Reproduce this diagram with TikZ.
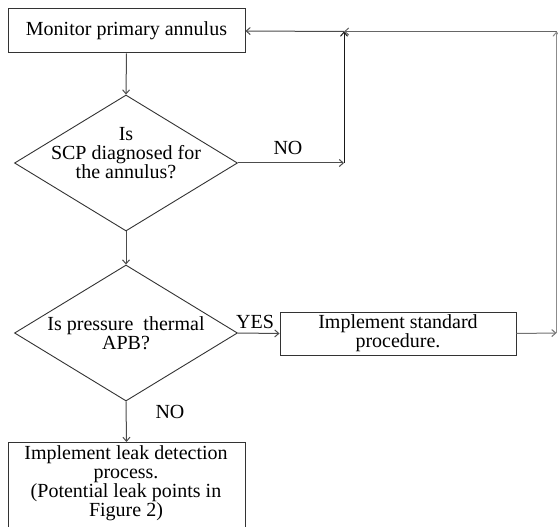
\documentclass[tikz,border=0pt]{standalone}
\usepackage{fontspec}
\setmainfont{Liberation Serif}
\usetikzlibrary{shapes.geometric,arrows.meta}
\tikzset{
  lbl/.style={font=\fontsize{20}{19}\selectfont, inner sep=0pt, align=center},
  procbox/.style={draw=black!80, line width=1pt, rectangle, inner sep=0pt},
  decbox/.style={draw=black!80, line width=0.9pt, diamond, inner sep=0pt, minimum width=223pt, minimum height=136pt},
  conn/.style={draw=black!70, line width=1pt},
  arr/.style={conn, -{Straight Barb[length=4pt,width=7pt]}},
}
\begin{document}
\begin{tikzpicture}[x=1pt,y=-1pt]
\clip (0,0) rectangle (558,527);
\fill[white] (0,0) rectangle (558,527);
% nodes
\node[procbox, minimum width=237pt, minimum height=44pt] (b1) at (126.5,31) {};
\node[lbl] (t1) at (b1.center) {Monitor primary annulus};
\node[decbox] (d1) at (126,163) {};
\node[lbl] (t2) at (126,153.5) {Is\\SCP diagnosed for\\the annulus?};
\node[decbox] (d2) at (126,333) {};
\node[lbl] (t3) at (126,333) {Is pressure~ thermal\\APB?};
\node[procbox, minimum width=236pt, minimum height=43pt] (b2) at (398,333.5) {};
\node[lbl] (t4) at (b2.center) {Implement standard\\procedure.};
\node[procbox, minimum width=237pt, minimum height=92pt, anchor=north] (b3) at (126.5,442) {};
\node[lbl, anchor=north] (t5) at (126,445) {Implement leak detection\\process.\\(Potential leak points in\\Figure 2)};
% labels
\node[lbl] (no1) at (288,148) {NO};
\node[lbl] (yes) at (255,322) {YES};
\node[lbl] (no2) at (170,412) {NO};
% corner coordinates
\coordinate (c1) at (344,163);
\coordinate (c2) at (344,31.5);
\coordinate (c3) at (556.5,31.5);
\coordinate (c4) at (556.5,333);
% connectors
\draw[arr] (b1.south) -- (d1.north);
\draw[arr] (d1.south) -- (d2.north);
\draw[arr] (d2.south) -- (b3.north);
\draw[arr] (d2.east) -- (b2.west);
\draw[arr] (d1.east) -- (c1);
\draw[arr, draw=black!90] (c1) -- (c2);
\draw[arr, draw=black!60] (c3) -- (c2);
\draw[arr] (c2) -- (b1.east);
\draw[arr, draw=black!55] (b2.east) -- (c4);
\draw[arr, draw=black!45] (c4) -- (c3);
\end{tikzpicture}
\end{document}
